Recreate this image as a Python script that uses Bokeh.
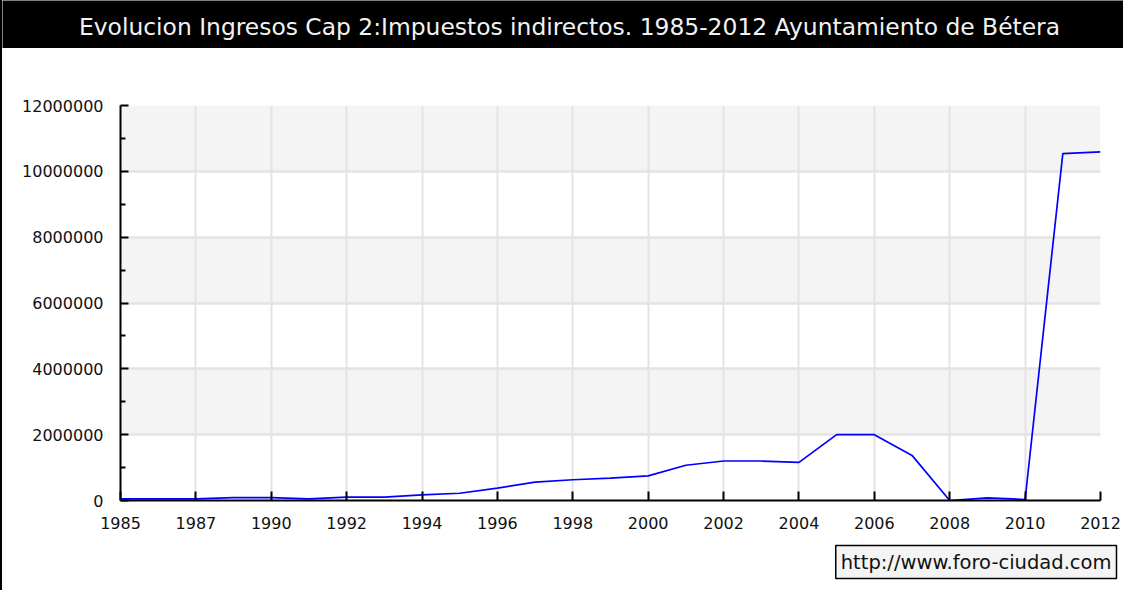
from bokeh.plotting import figure
from bokeh.models import (Range1d, FixedTicker, BasicTickFormatter, Label, Column, Grid, Title)
from bokeh.embed import file_html
from bokeh.resources import INLINE

# ---- data ----
years = ["1985", "1986", "1987", "1988", "1990", "1991", "1992", "1993", "1994",
         "1995", "1996", "1997", "1998", "1999", "2000", "2001", "2002", "2003",
         "2004", "2005", "2006", "2007", "2008", "2009", "2010", "2011", "2012"]
ingresos = [50000, 50000, 50000, 90000, 90000, 48000, 100000, 100000, 170000,
            220000, 375000, 560000, 630000, 680000, 750000, 1070000, 1200000, 1200000,
            1160000, 2000000, 2000000, 1370000, 0, 80000, 30000, 10540000, 10590000]
y_major = [0, 2000000, 4000000, 6000000, 8000000, 10000000, 12000000]
y_minor = [1000000, 3000000, 5000000, 7000000, 9000000, 11000000]
title_text = "Evolucion Ingresos Cap 2:Impuestos indirectos. 1985-2012 Ayuntamiento de Bétera"
watermark = "http://www.foro-ciudad.com"

FONT = "DejaVu Sans"
W = 1121

# ---- title bar ----
t = figure(width=W, height=48, output_backend="svg", toolbar_location=None,
           x_axis_type=None, y_axis_type=None, min_border=0,
           x_range=Range1d(0, 1), y_range=Range1d(0, 1))
t.frame_align = False
t.background_fill_color = "black"
t.border_fill_color = "black"
t.outline_line_color = None
t.grid.visible = False
t.add_layout(Label(x=567, y=21.5, x_units="screen", y_units="screen", text=title_text,
                   text_color="#f2f2f2", text_font=FONT, text_font_size="23.4px",
                   text_align="center", text_baseline="middle"))

# ---- chart ----
idx = list(range(len(years)))
p = figure(width=W, height=542, output_backend="svg", toolbar_location=None,
           x_range=Range1d(0, len(years) - 1), y_range=Range1d(y_major[0], y_major[-1]),
           min_border_left=118, min_border_right=23, min_border_top=57, min_border_bottom=90)
p.frame_align = False
p.outline_line_color = None
p.background_fill_color = "white"
p.border_fill_color = "white"

# alternating bands: 0-2M, 4-6M, 8-10M shaded
step = y_major[1] - y_major[0]
band_grid = Grid(dimension=1, ticker=FixedTicker(ticks=[y_major[0] - step] + y_major),
                 grid_line_color=None, band_fill_color="#f4f4f4", band_fill_alpha=1.0,
                 level="image")
p.add_layout(band_grid)

p.line(idx, ingresos, line_color="#0000ff", line_width=1.7)

xt = FixedTicker(ticks=list(range(0, len(years), 2)))
p.xaxis.ticker = xt
p.xaxis.major_label_overrides = {i: years[i] for i in range(0, len(years), 2)}
p.xaxis.major_tick_in = 9
p.xaxis.major_tick_out = 0
p.xaxis.minor_tick_line_color = None
p.xaxis.axis_line_width = 2
p.xaxis.major_tick_line_width = 2
p.xaxis.major_label_standoff = 16
p.xaxis.major_label_text_font = FONT
p.xaxis.major_label_text_font_size = "16px"
p.xaxis.major_label_text_color = "#111111"

p.yaxis.ticker = FixedTicker(ticks=y_major, minor_ticks=y_minor)
p.yaxis.formatter = BasicTickFormatter(use_scientific=False)
p.yaxis.major_tick_in = 8
p.yaxis.major_tick_out = 0
p.yaxis.minor_tick_in = 5
p.yaxis.minor_tick_out = 0
p.yaxis.axis_line_width = 2
p.yaxis.major_tick_line_width = 2
p.yaxis.minor_tick_line_width = 2
p.yaxis.major_label_standoff = 17
p.yaxis.major_label_text_font = FONT
p.yaxis.major_label_text_font_size = "16px"
p.yaxis.major_label_text_color = "#111111"

p.xgrid.ticker = xt
p.xgrid.grid_line_color = "#e3e3e3"
p.xgrid.grid_line_width = 2
p.ygrid.grid_line_color = "#e3e3e3"
p.ygrid.grid_line_width = 2

# watermark box below the axis
wm = Title(text=watermark, align="right", offset=-16, standoff=24,
           text_font=FONT, text_font_size="19.5px", text_font_style="normal",
           text_color="#111111", background_fill_color="#f4f4f4",
           border_line_color="black", border_line_width=1.5, padding=5)
p.add_layout(wm, "below")

layout = Column(children=[t, p], spacing=0, styles={"border-left": "2px solid black"})

open("out.html", "w").write(file_html(layout, INLINE))
